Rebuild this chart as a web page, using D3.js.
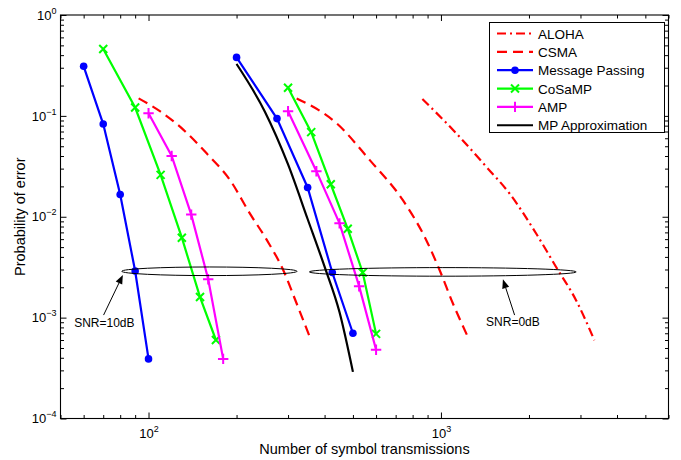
<!DOCTYPE html>
<html lang="en">
  <head>
    <meta charset="UTF-8" />
    <title>Probability of error vs symbol transmissions</title>
    <script src="https://d3js.org/d3.v7.min.js"></script>
    <style>
      body { margin: 0; background: #fff; }
      svg { font-family: "Liberation Sans", Arial, Helvetica, sans-serif; }
      .axis path.domain { display: none; }
      .axis line { stroke: #000; stroke-width: 1; }
      .axis text { fill: #000; font-size: 13px; }
    </style>
  </head>
  <body>
    <svg id="chart" width="681" height="460"></svg>
    <script>
      // ---- data ----
      const seriesNames = ["ALOHA", "CSMA", "Message Passing", "CoSaMP", "AMP", "MP Approximation"];

      // SNR = 10 dB
      const mp10X = [60, 70, 80, 90, 100];
      const mp10Y = [0.31, 0.083, 0.0166, 0.0029, 0.00039];
      const cosamp10X = [70, 90, 110, 130, 150, 170];
      const cosamp10Y = [0.46, 0.121, 0.026, 0.0062, 0.0016, 0.0006];
      const amp10X = [100, 120, 140, 160, 180];
      const amp10Y = [0.106, 0.04, 0.0105, 0.0024, 0.00039];
      const csma10X = [92.5, 110, 132, 158, 190, 222, 254, 289, 321, 356];
      const csma10Y = [0.149, 0.11, 0.0723, 0.0425, 0.0231, 0.0108, 0.00586, 0.00295, 0.00138, 0.000644];

      // SNR = 0 dB
      const mp0X = [200, 275, 350, 425, 500];
      const mp0Y = [0.38, 0.094, 0.0195, 0.0028, 0.0007];
      const mpApproxX = [200, 250, 300, 350, 400, 450, 500];
      const mpApproxY = [0.327, 0.11, 0.033, 0.0095, 0.0032, 0.00113, 0.00029];
      const cosamp0X = [300, 360, 420, 480, 540, 600];
      const cosamp0Y = [0.19, 0.069, 0.021, 0.0076, 0.0028, 0.00069];
      const amp0X = [300, 375, 450, 525, 600];
      const amp0Y = [0.111, 0.0283, 0.0086, 0.00205, 0.00048];
      const csma0X = [321, 440, 571, 741, 891, 990, 1099, 1236];
      const csma0Y = [0.149, 0.0843, 0.0364, 0.0146, 0.00586, 0.00295, 0.00138, 0.000644];
      const aloha0X = [864, 1129, 1429, 1716, 2116, 2476, 2897, 3347];
      const aloha0Y = [0.147, 0.067, 0.0313, 0.017, 0.00682, 0.00318, 0.00149, 0.000597];

      const xMajor = [100, 1000];
      const yMajor = [1, 0.1, 0.01, 0.001, 0.0001];

      // ---- layout ----
      const width = 681;
      const height = 460;
      const margin = { top: 15, right: 12.5, bottom: 41.5, left: 60.5 };

      const svg = d3.select("#chart");

      const x = d3.scaleLog().domain([50, 6000]).range([margin.left, width - margin.right]);
      const y = d3.scaleLog().domain([1, 1e-4]).range([margin.top, height - margin.bottom]);

      const x0 = margin.left, x1 = width - margin.right;
      const y0 = margin.top, y1 = height - margin.bottom;

      // minor tick values
      const xMinor = [];
      [10, 100, 1000].forEach((b) => {
        for (let k = 2; k <= 9; k++) {
          const v = b * k;
          if (v >= 50 && v <= 6000 && !xMajor.includes(v)) xMinor.push(v);
        }
      });
      const yMinor = [];
      [0.0001, 0.001, 0.01, 0.1].forEach((b) => {
        for (let k = 2; k <= 9; k++) yMinor.push(b * k);
      });

      function supLabel(sel, fmtExp) {
        sel.each(function (d) {
          const t = d3.select(this).text(null);
          t.append("tspan").text("10");
          t.append("tspan").attr("dy", "-6").attr("font-size", "9px").text(fmtExp(d));
        });
      }
      const expText = (d) => {
        const e = Math.round(Math.log10(d));
        return e < 0 ? "\u2212" + Math.abs(e) : String(e);
      };

      // bottom axis
      svg.append("g").attr("class", "axis").attr("transform", `translate(0,${y1})`)
        .call(d3.axisBottom(x).tickValues(xMinor).tickSize(-3.5).tickFormat(""));
      const xb = svg.append("g").attr("class", "axis").attr("transform", `translate(0,${y1})`)
        .call(d3.axisBottom(x).tickValues(xMajor).tickSize(-6).tickPadding(10.5).tickFormat(() => "x"));
      xb.selectAll(".tick text").call(supLabel, expText);
      // top axis (mirror)
      svg.append("g").attr("class", "axis").attr("transform", `translate(0,${y0})`)
        .call(d3.axisTop(x).tickValues(xMinor).tickSize(-3.5).tickFormat(""));
      svg.append("g").attr("class", "axis").attr("transform", `translate(0,${y0})`)
        .call(d3.axisTop(x).tickValues(xMajor).tickSize(-6).tickFormat(""));

      // left axis
      svg.append("g").attr("class", "axis").attr("transform", `translate(${x0},0)`)
        .call(d3.axisLeft(y).tickValues(yMinor).tickSize(-3.5).tickFormat(""));
      const yl = svg.append("g").attr("class", "axis").attr("transform", `translate(${x0},0)`)
        .call(d3.axisLeft(y).tickValues(yMajor).tickSize(-6).tickPadding(4).tickFormat(() => "y"));
      yl.selectAll(".tick text").call(supLabel, expText);
      // right axis (mirror)
      svg.append("g").attr("class", "axis").attr("transform", `translate(${x1},0)`)
        .call(d3.axisRight(y).tickValues(yMinor).tickSize(-3.5).tickFormat(""));
      svg.append("g").attr("class", "axis").attr("transform", `translate(${x1},0)`)
        .call(d3.axisRight(y).tickValues(yMajor).tickSize(-6).tickFormat(""));

      // frame
      svg.append("rect")
        .attr("x", x0).attr("y", y0).attr("width", x1 - x0).attr("height", y1 - y0)
        .attr("fill", "none").attr("stroke", "#000").attr("stroke-width", 1.1);

      // axis titles
      svg.append("text")
        .attr("x", (x0 + x1) / 2).attr("y", 454)
        .attr("text-anchor", "middle").attr("font-size", "14.5px")
        .text("Number of symbol transmissions");
      svg.append("text")
        .attr("transform", `translate(25,${(y0 + y1) / 2}) rotate(-90)`)
        .attr("text-anchor", "middle").attr("font-size", "14.5px")
        .text("Probability of error");

      // ---- series ----
      const zip = (xs, ys) => xs.map((v, i) => [v, ys[i]]);
      const lineLin = d3.line().x((d) => x(d[0])).y((d) => y(d[1]));
      const lineSmooth = d3.line().x((d) => x(d[0])).y((d) => y(d[1])).curve(d3.curveMonotoneX);

      const styles = {
        "ALOHA": { color: "#ff0000", dash: "9,4,2,4", marker: null },
        "CSMA": { color: "#ff0000", dash: "10,6", marker: null },
        "Message Passing": { color: "#0000ff", dash: null, marker: "circle" },
        "CoSaMP": { color: "#00ff00", dash: null, marker: "x" },
        "AMP": { color: "#ff00ff", dash: null, marker: "plus" },
        "MP Approximation": { color: "#000000", dash: null, marker: null },
      };

      const curves = [
        { name: "ALOHA", pts: zip(aloha0X, aloha0Y) },
        { name: "CSMA", pts: zip(csma10X, csma10Y) },
        { name: "CSMA", pts: zip(csma0X, csma0Y) },
        { name: "Message Passing", pts: zip(mp10X, mp10Y) },
        { name: "Message Passing", pts: zip(mp0X, mp0Y) },
        { name: "CoSaMP", pts: zip(cosamp10X, cosamp10Y) },
        { name: "CoSaMP", pts: zip(cosamp0X, cosamp0Y) },
        { name: "AMP", pts: zip(amp10X, amp10Y) },
        { name: "AMP", pts: zip(amp0X, amp0Y) },
        { name: "MP Approximation", pts: zip(mpApproxX, mpApproxY) },
      ];

      function drawMarker(g, type, cx, cy, color) {
        if (type === "circle") {
          g.append("circle").attr("cx", cx).attr("cy", cy).attr("r", 3.8).attr("fill", color);
        } else if (type === "x") {
          const s = 4;
          g.append("path")
            .attr("d", `M${cx - s},${cy - s}L${cx + s},${cy + s}M${cx - s},${cy + s}L${cx + s},${cy - s}`)
            .attr("stroke", color).attr("stroke-width", 2).attr("fill", "none");
        } else if (type === "plus") {
          const s = 5.2;
          g.append("path")
            .attr("d", `M${cx - s},${cy}L${cx + s},${cy}M${cx},${cy - s}L${cx},${cy + s}`)
            .attr("stroke", color).attr("stroke-width", 2).attr("fill", "none");
        }
      }

      const plot = svg.append("g");
      curves.forEach((c) => {
        const st = styles[c.name];
        const gen = st.marker ? lineLin : lineSmooth;
        plot.append("path")
          .attr("d", gen(c.pts))
          .attr("fill", "none")
          .attr("stroke", st.color)
          .attr("stroke-width", 2.2)
          .attr("stroke-dasharray", st.dash);
        if (st.marker) {
          c.pts.forEach((p) => drawMarker(plot, st.marker, x(p[0]), y(p[1]), st.color));
        }
      });

      // ---- annotations ----
      const ellipses = [
        { x0: 81, x1: 322, y: 0.00288 },
        { x0: 355, x1: 2900, y: 0.00284 },
      ];
      const arrows = [
        { from: [70.2, 0.00106], to: [81.7, 0.00265], label: "SNR=10dB", at: [70.6, 0.00081] },
        { from: [1786, 0.00106], to: [1629, 0.0024], label: "SNR=0dB", at: [1763, 0.00083] },
      ];

      ellipses.forEach((e) => {
        const a = x(e.x0), b = x(e.x1);
        svg.append("ellipse")
          .attr("cx", (a + b) / 2).attr("cy", y(e.y))
          .attr("rx", (b - a) / 2).attr("ry", 4.3)
          .attr("fill", "none").attr("stroke", "#000").attr("stroke-width", 1);
      });

      arrows.forEach((a) => {
        const fx = x(a.from[0]), fy = y(a.from[1]);
        const tx = x(a.to[0]), ty = y(a.to[1]);
        const ang = Math.atan2(ty - fy, tx - fx);
        const len = 9, hw = 3.6;
        const bx = tx - len * Math.cos(ang), by = ty - len * Math.sin(ang);
        svg.append("line")
          .attr("x1", fx).attr("y1", fy).attr("x2", bx).attr("y2", by)
          .attr("stroke", "#000").attr("stroke-width", 1);
        const px = -Math.sin(ang) * hw, py = Math.cos(ang) * hw;
        svg.append("path")
          .attr("d", `M${tx},${ty}L${bx + px},${by + py}L${bx - px},${by - py}Z`)
          .attr("fill", "#000");
        svg.append("text")
          .attr("x", x(a.at[0])).attr("y", y(a.at[1]))
          .attr("text-anchor", "middle").attr("font-size", "12px")
          .text(a.label);
      });

      // ---- legend ----
      const legend = svg.append("g");
      const lx = 489.5, ly = 22.5, lw = 175, lh = 110;
      legend.append("rect")
        .attr("x", lx).attr("y", ly).attr("width", lw).attr("height", lh)
        .attr("fill", "#fff").attr("stroke", "#000").attr("stroke-width", 1);
      seriesNames.forEach((name, i) => {
        const st = styles[name];
        const ry = 33.5 + i * 18.35;
        legend.append("line")
          .attr("x1", 497).attr("x2", 533).attr("y1", ry).attr("y2", ry)
          .attr("stroke", st.color).attr("stroke-width", 2.2)
          .attr("stroke-dasharray", st.dash);
        if (st.marker) drawMarker(legend, st.marker, 515, ry, st.color);
        legend.append("text")
          .attr("x", 538).attr("y", ry + 5)
          .attr("font-size", "13.5px")
          .text(name);
      });
    </script>
  </body>
</html>
